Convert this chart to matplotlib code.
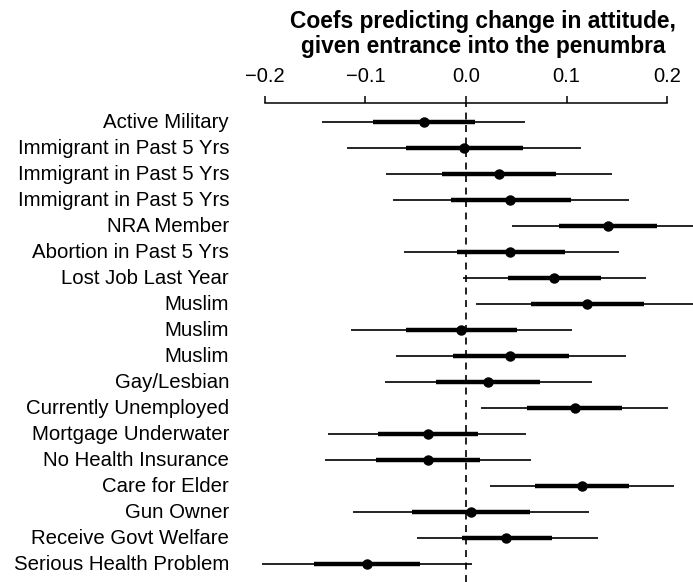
import numpy as np
import matplotlib
matplotlib.use("Agg")
import matplotlib.pyplot as plt
from matplotlib.transforms import blended_transform_factory

plt.rcParams['font.family'] = ['Liberation Sans', 'DejaVu Sans']
plt.rcParams['lines.scale_dashes'] = False

# estimates
labels = ["Active Military", "Immigrant in Past 5 Yrs", "Immigrant in Past 5 Yrs",
          "Immigrant in Past 5 Yrs", "NRA Member", "Abortion in Past 5 Yrs",
          "Lost Job Last Year", "Muslim", "Muslim", "Muslim", "Gay/Lesbian",
          "Currently Unemployed", "Mortgage Underwater", "No Health Insurance",
          "Care for Elder", "Gun Owner", "Receive Govt Welfare",
          "Serious Health Problem"]
coef = [-0.042, -0.002, 0.033, 0.044, 0.141, 0.044, 0.088, 0.120, -0.005, 0.044,
        0.022, 0.108, -0.038, -0.038, 0.115, 0.005, 0.040, -0.099]
lo1 = [-0.093, -0.060, -0.024, -0.015, 0.093, -0.009, 0.042, 0.065, -0.060, -0.013,
       -0.030, 0.061, -0.088, -0.090, 0.069, -0.054, -0.004, -0.151]
hi1 = [0.009, 0.057, 0.090, 0.104, 0.190, 0.099, 0.134, 0.177, 0.051, 0.102,
       0.074, 0.155, 0.012, 0.014, 0.162, 0.064, 0.086, -0.046]
lo2 = [-0.143, -0.118, -0.080, -0.073, 0.046, -0.062, -0.003, 0.010, -0.114, -0.070,
       -0.081, 0.015, -0.137, -0.140, 0.024, -0.112, -0.049, -0.203]
hi2 = [0.059, 0.114, 0.145, 0.162, 0.237, 0.152, 0.179, 0.231, 0.105, 0.159,
       0.125, 0.201, 0.060, 0.065, 0.207, 0.122, 0.131, 0.006]
xticks = [-0.2, -0.1, 0.0, 0.1, 0.2]
xticklabels = ["\u22120.2", "\u22120.1", "0.0", "0.1", "0.2"]

W, H = 693, 582
fig = plt.figure(figsize=(W / 100, H / 100), dpi=100)
top_px = 103
ax = fig.add_axes([0, 0, 1, 1 - top_px / H])

# pixel mapping: -0.2 -> 265 px, 0.2 -> 667 px
ppu = (667 - 265) / 0.4
x0 = 466
ax.set_xlim((0 - x0) / ppu, (W - x0) / ppu)
row0, step = 122, 26
ax.set_ylim((H - row0) / step, (top_px - row0) / step)

y = np.arange(len(labels))
ax.hlines(y, lo2, hi2, color='black', lw=1.2)
ax.hlines(y, lo1, hi1, color='black', lw=3.2)
ax.plot(coef, y, 'o', color='black', ms=6.5, zorder=3)
ax.axvline(0, color='#222222', lw=1.4, dashes=(5, 4), zorder=1)

for s in ['left', 'right', 'bottom']:
    ax.spines[s].set_visible(False)
ax.spines['top'].set_bounds(-0.2, 0.2)
ax.spines['top'].set_linewidth(1.1)
ax.xaxis.tick_top()
ax.set_xticks(xticks)
ax.set_xticklabels(xticklabels, fontsize=14.5)
ax.tick_params(axis='x', direction='out', length=5, width=1.1, pad=7)
ax.set_yticks([])

tr = blended_transform_factory(fig.transFigure, ax.transData)
for i, lab in enumerate(labels):
    ax.text(229 / W, i, lab, transform=tr, ha='right', va='center', fontsize=14.7)

fig.text(483 / W, 1 - 34 / H, "Coefs predicting change in attitude,\ngiven entrance into the penumbra",
         ha='center', va='center', fontsize=16.4, fontweight='bold', linespacing=1.15)

fig.savefig("out.png", dpi=100)
